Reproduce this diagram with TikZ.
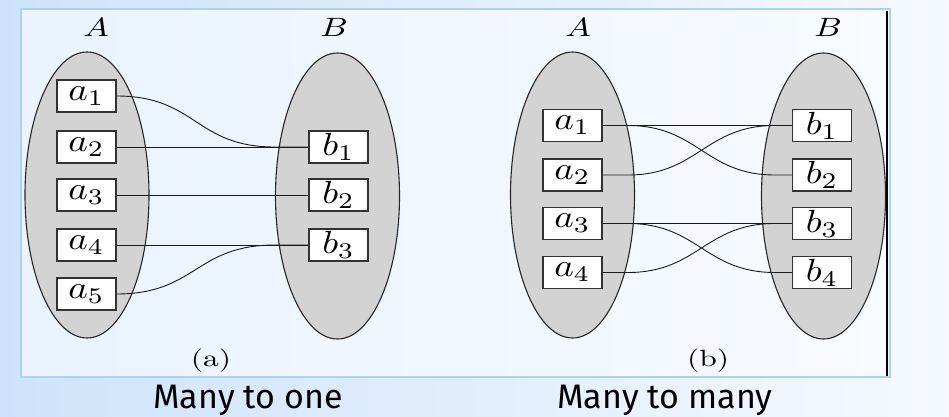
\documentclass[tikz,border=0pt]{standalone}
\usepackage{graphicx}
\usepackage{fontspec}
\usetikzlibrary{shapes.geometric}
\newfontfamily\capfont{Fira Sans}
\newcommand\elm[1]{\scalebox{3.7}[3.2]{$#1$}}
\newcommand\setlab[1]{\scalebox{3.4}[2.65]{$#1$}}
\newcommand\sublab[1]{\scalebox{3.15}[2.35]{#1}}
\definecolor{bgL}{RGB}{206,227,251}
\definecolor{bgR}{RGB}{246,250,255}
\definecolor{inL}{RGB}{234,243,254}
\definecolor{inR}{RGB}{248,251,255}
\definecolor{frameblue}{RGB}{170,210,250}
\definecolor{setgray}{RGB}{211,211,211}
\begin{document}
\begin{tikzpicture}[x=1pt,y=-1pt,
  setshape/.style={ellipse, draw=black!85, fill=setgray, line width=1.1pt, minimum width=124pt, minimum height=286pt, inner sep=0pt},
  elem/.style={rectangle, draw=black!80, fill=white, line width=1.1pt, minimum width=59pt, minimum height=32pt, inner sep=0pt, font=\fontsize{10}{10}\selectfont},
  lab/.style={font=\fontsize{10}{10}\selectfont},
  link/.style={line width=0.9pt, draw=black!90},
  capt/.style={font=\capfont\fontsize{34}{34}\selectfont, anchor=base}]
\useasboundingbox (0,0) rectangle (949,417);
\shade[left color=bgL, right color=bgR] (0,0) rectangle (949,417);
\shade[left color=inL, right color=inR] (21,9) rectangle (890,377);
\draw[frameblue, line width=2.5pt] (21,9) rectangle (890,377);
\draw[black, line width=1.8pt] (887,11) -- (887,376);

% ---------- panel (a)
\node[lab] (LA1) at (96,27) {\setlab{A}};
\node[lab] (LB1) at (334,27) {\setlab{B}};
\node[setshape] (SA1) at (87,195) {};
\node[setshape] (SB1) at (337.5,196) {};
\node[elem] (a1) at (86.5,96) {\elm{a_1}};
\node[elem] (a2) at (86.5,147) {\elm{a_2}};
\node[elem] (a3) at (86.5,195) {\elm{a_3}};
\node[elem] (a4) at (86.5,245) {\elm{a_4}};
\node[elem] (a5) at (86.5,294) {\elm{a_5}};
\node[elem] (b1) at (338.5,147) {\elm{b_1}};
\node[elem] (b2) at (338.5,195) {\elm{b_2}};
\node[elem] (b3) at (338.5,245) {\elm{b_3}};
\coordinate (j1) at (275,147);
\coordinate (j3) at (275,245);
\draw[link] (a1.east) .. controls +(80,0) and +(-80,0) .. (j1) -- (b1.west);
\draw[link] (a2.east) -- (b1.west);
\draw[link] (a3.east) -- (b2.west);
\draw[link] (a4.east) -- (b3.west);
\draw[link] (a5.east) .. controls +(80,0) and +(-80,0) .. (j3) -- (b3.west);
\node[lab] (ca) at (211,361) {\sublab{(a)}};
\node[capt] (ta) at (248,408) {Many to one};

% ---------- panel (b)
\node[lab] (LA2) at (578,27) {\setlab{A}};
\node[lab] (LB2) at (828,27) {\setlab{B}};
\node[setshape] (SA2) at (572.5,195) {};
\node[setshape] (SB2) at (823.5,196) {};
\node[elem] (c1) at (572.5,125.5) {\elm{a_1}};
\node[elem] (c2) at (572.5,175) {\elm{a_2}};
\node[elem] (c3) at (572.5,223.5) {\elm{a_3}};
\node[elem] (c4) at (572.5,272.5) {\elm{a_4}};
\node[elem] (d1) at (822,125.5) {\elm{b_1}};
\node[elem] (d2) at (822,175) {\elm{b_2}};
\node[elem] (d3) at (822,223.5) {\elm{b_3}};
\node[elem] (d4) at (822,272.5) {\elm{b_4}};
\coordinate (s1) at (628,125.5);
\coordinate (s2) at (628,175);
\coordinate (s3) at (628,223.5);
\coordinate (s4) at (628,272.5);
\coordinate (e1) at (775,125.5);
\coordinate (e2) at (775,175);
\coordinate (e3) at (775,223.5);
\coordinate (e4) at (775,272.5);
\draw[link] (c1.east) -- (d1.west);
\draw[link] (c1.east) -- (s1) .. controls +(70,0) and +(-70,0) .. (e2) -- (d2.west);
\draw[link] (c2.east) -- (s2) .. controls +(70,0) and +(-70,0) .. (e1) -- (d1.west);
\draw[link] (c3.east) -- (d3.west);
\draw[link] (c3.east) -- (s3) .. controls +(70,0) and +(-70,0) .. (e4) -- (d4.west);
\draw[link] (c4.east) -- (s4) .. controls +(70,0) and +(-70,0) .. (e3) -- (d3.west);
\node[lab] (cb) at (708,361) {\sublab{(b)}};
\node[capt] (tb) at (665,408) {Many to many};
\end{tikzpicture}
\end{document}
